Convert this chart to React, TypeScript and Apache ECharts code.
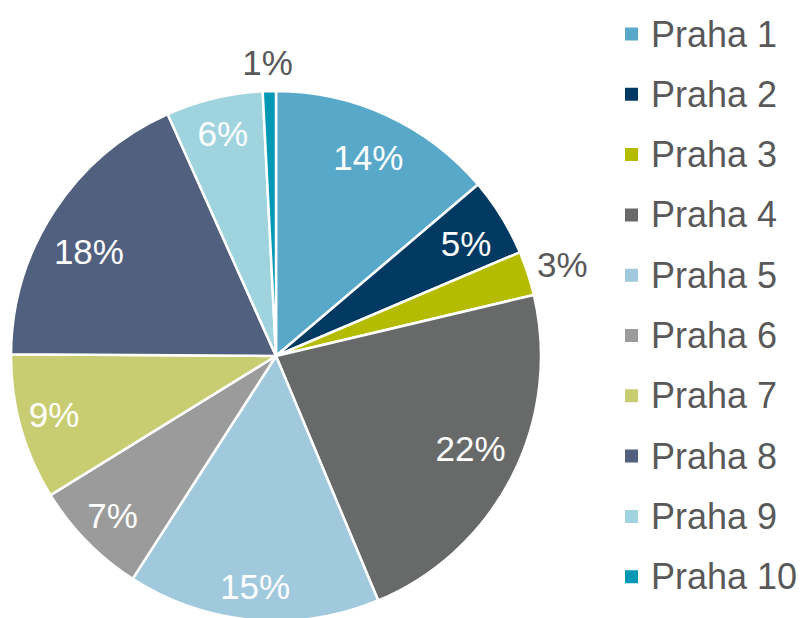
import React, { useEffect, useRef } from "react";
import * as echarts from "echarts";

const categories = ["Praha 1", "Praha 2", "Praha 3", "Praha 4", "Praha 5", "Praha 6", "Praha 7", "Praha 8", "Praha 9", "Praha 10"];
const values = [13.8, 4.8, 2.7, 22.4, 15.4, 7.1, 8.9, 18.2, 5.9, 0.8];
const colors = ["#58A9C9", "#003A63", "#B5BC00", "#686A69", "#A1C9DE", "#9A9B9A", "#C9CD72", "#52607F", "#9FD4DE", "#0098B4"];
const outsideLabels = ["Praha 3", "Praha 10"];

export default function App() {
  const ref = useRef<HTMLDivElement>(null);
  useEffect(() => {
    document.body.style.margin = "0";
    const chart = echarts.init(ref.current!, null, { renderer: "svg" });
    const font = "'Liberation Sans', Arial, sans-serif";
    const R = 265;
    const center = [276, 356];
    // label nudges (layout only), per slice index
    const labelNudge: [number, number][] = [
      [2, -3], [7, 0], [82, -24], [3, -5], [-2, 16], [-10, 9], [-15, 0], [-7, 13], [-3, -13], [-3, -79],
    ];
    const mainData = categories.map((c, i) => ({ name: c, value: values[i], itemStyle: { color: colors[i] } }));
    const labelData = categories.map((c, i) => ({
      name: c,
      value: values[i],
      label: { color: outsideLabels.includes(c) ? "#595959" : "#ffffff" },
    }));
    chart.setOption({
      animation: false,
      backgroundColor: "#ffffff",
      legend: {
        orient: "vertical",
        left: 623,
        top: 14,
        padding: 0,
        data: categories,
        icon: "rect",
        itemWidth: 15,
        itemHeight: 15,
        itemGap: 20.3,
        selectedMode: false,
        textStyle: { fontFamily: font, fontSize: 36, color: "#595959", lineHeight: 40, padding: [0, 0, 0, 7] },
      },
      series: [
        {
          type: "pie",
          center,
          radius: R,
          startAngle: 90,
          clockwise: true,
          data: mainData,
          label: { show: false },
          labelLine: { show: false },
          itemStyle: { borderColor: "#ffffff", borderWidth: 2.5 },
          emphasis: { disabled: true },
          silent: true,
        },
        {
          type: "pie",
          center,
          radius: [R * 0.6, R],
          startAngle: 90,
          clockwise: true,
          data: labelData,
          avoidLabelOverlap: false,
          itemStyle: { color: "rgba(0,0,0,0)", borderWidth: 0 },
          labelLine: { show: false },
          emphasis: { disabled: true },
          silent: true,
          label: {
            show: true,
            position: "inside",
            fontFamily: font,
            fontSize: 35,
            formatter: (p: any) => Math.round(p.percent) + "%",
          },
          labelLayout: (p: any) => {
            const n = labelNudge[p.dataIndex];
            return n ? { dx: n[0], dy: n[1] } : {};
          },
        },
      ],
    });
    return () => chart.dispose();
  }, []);
  return <div ref={ref} style={{ width: 803, height: 618 }} />;
}
